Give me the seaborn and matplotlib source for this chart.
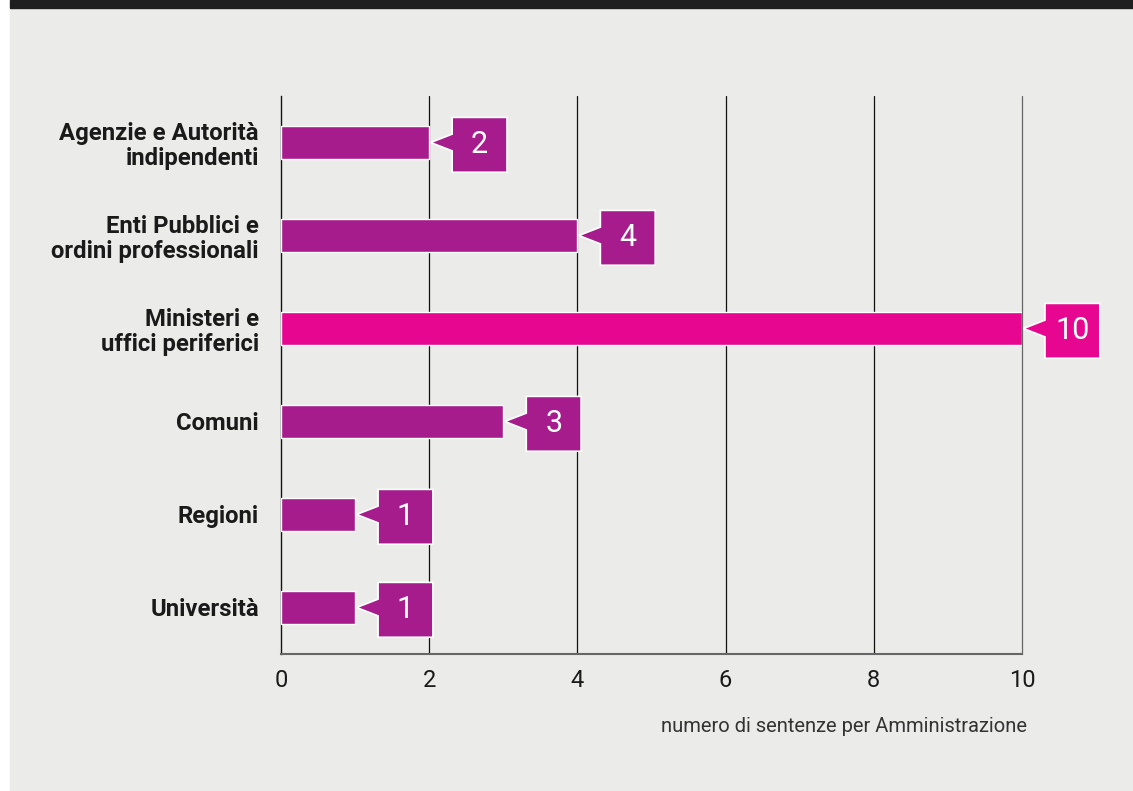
import seaborn as sns
import matplotlib.pyplot as plt
from matplotlib.patches import Polygon, Rectangle
import pandas as pd

# data
categories = ['Agenzie e Autorità\nindipendenti', 'Enti Pubblici e\nordini professionali',
              'Ministeri e\nuffici periferici', 'Comuni', 'Regioni', 'Università']
values = [2, 4, 10, 3, 1, 1]
bar_colors = ['#a61c8d', '#a61c8d', '#e6068f', '#a61c8d', '#a61c8d', '#a61c8d']
xticks = [0, 2, 4, 6, 8, 10]

df = pd.DataFrame({'cat': categories, 'val': values})

sns.set_style('white')
plt.rcParams['font.family'] = ['Roboto', 'DejaVu Sans']

fig = plt.figure(figsize=(11.33, 7.91), dpi=100, facecolor='white')
# background panel and dark top band
fig.patches.append(Rectangle((10 / 1133, 0), 1 - 10 / 1133, 1 - 8 / 791,
                             transform=fig.transFigure, color='#ebebea', zorder=-2))
fig.patches.append(Rectangle((10 / 1133, 1 - 8 / 791), 1 - 10 / 1133, 8 / 791,
                             transform=fig.transFigure, color='#1f1f1f', zorder=-2))

ax = fig.add_axes([281 / 1133, 1 - 654 / 791, (1022 - 281) / 1133, (654 - 96) / 791])
ax.set_facecolor('none')

sns.barplot(data=df, y='cat', x='val', hue='cat', palette=bar_colors, legend=False,
            orient='h', width=0.345, saturation=1, edgecolor='white', linewidth=1,
            ax=ax, zorder=3)

ax.set_xlim(0, 10)
ax.set_ylim(5.5, -0.5)
ax.set_xticks(xticks)
ax.set_xticklabels([str(t) for t in xticks], fontsize=17, color='#1a1a1a')
ax.tick_params(axis='x', length=0, pad=11)
ax.tick_params(axis='y', length=0, pad=16)
for lbl in ax.get_yticklabels():
    lbl.set_fontsize(17.2)
    lbl.set_fontweight('bold')
    lbl.set_color('#1a1a1a')
    lbl.set_horizontalalignment('right')
    lbl.set_multialignment('right')
    lbl.set_linespacing(1.1)

for t in xticks[1:]:
    ax.axvline(t, color='#111111' if t < 10 else '#666666', lw=0.9, zorder=1, clip_on=False)

for s in ['top', 'right']:
    ax.spines[s].set_visible(False)
ax.spines['left'].set_color('#111111')
ax.spines['left'].set_linewidth(1.0)
ax.spines['bottom'].set_color('#666666')
ax.spines['bottom'].set_linewidth(1.5)

ax.set_ylabel('')
ax.set_xlabel('numero di sentenze per Amministrazione', fontsize=14.5, color='#333333',
              loc='right', labelpad=18)
ax.xaxis.label.set_x(1.007)

# callout labels
for i, (v, c) in enumerate(zip(values, bar_colors)):
    tip = v + 0.02
    left = v + 0.31
    right = left + 0.74
    yc = i + 0.025
    top, bot = yc - 0.295, yc + 0.295
    poly = Polygon([(tip, i), (left, i - 0.09), (left, top), (right, top),
                    (right, bot), (left, bot), (left, i + 0.09)],
                   closed=True, facecolor=c, edgecolor='white', lw=1.2, zorder=4,
                   clip_on=False)
    ax.add_patch(poly)
    ax.text((left + right) / 2, yc, str(v), color='white', fontsize=22,
            ha='center', va='center', zorder=5)

plt.savefig('out.png', dpi=100, facecolor='white')
